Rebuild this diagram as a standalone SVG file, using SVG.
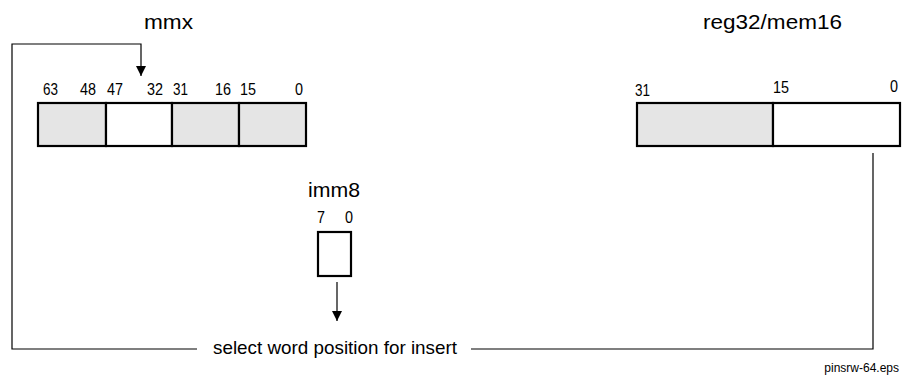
<svg xmlns="http://www.w3.org/2000/svg" width="902" height="379" viewBox="0 0 902 379">
<style>
text{font-family:"Liberation Sans",Arial,sans-serif;fill:#000}
.t{font-size:21px}
.n{font-size:17px}
.b{stroke:#000;stroke-width:2.2}
.g{fill:#e5e5e5}
.w{fill:#fff}
.c{fill:none;stroke:#000;stroke-width:1.2}
</style>
<defs>
<marker id="ah" viewBox="0 0 10 10" refX="10" refY="5" markerWidth="10" markerHeight="10" markerUnits="userSpaceOnUse" orient="auto">
<path d="M0,0 L10,5 L0,10 z" fill="#000"/>
</marker>
</defs>
<rect width="902" height="379" fill="#fff"/>
<g id="mmx">
<text class="t" x="144" y="29" textLength="49" lengthAdjust="spacingAndGlyphs">mmx</text>
<rect class="b g" x="38" y="103" width="68" height="43"/>
<rect class="b w" x="106" y="103" width="66" height="43"/>
<rect class="b g" x="172" y="103" width="67" height="43"/>
<rect class="b g" x="239" y="103" width="67" height="43"/>
<g class="n">
<text x="43" y="95" textLength="15" lengthAdjust="spacingAndGlyphs">63</text>
<text x="80" y="95" textLength="16" lengthAdjust="spacingAndGlyphs">48</text>
<text x="107" y="95" textLength="16" lengthAdjust="spacingAndGlyphs">47</text>
<text x="147" y="95" textLength="16" lengthAdjust="spacingAndGlyphs">32</text>
<text x="173" y="95" textLength="15" lengthAdjust="spacingAndGlyphs">31</text>
<text x="215" y="95" textLength="16" lengthAdjust="spacingAndGlyphs">16</text>
<text x="240" y="95" textLength="16" lengthAdjust="spacingAndGlyphs">15</text>
<text x="295" y="95" textLength="8" lengthAdjust="spacingAndGlyphs">0</text>
</g>
</g>
<g id="reg32">
<text class="t" x="703" y="29" textLength="139" lengthAdjust="spacingAndGlyphs">reg32/mem16</text>
<rect class="b g" x="637" y="103" width="136" height="43"/>
<rect class="b w" x="773" y="103" width="127" height="43"/>
<g class="n">
<text x="635" y="96" textLength="15" lengthAdjust="spacingAndGlyphs">31</text>
<text x="773" y="93" textLength="16" lengthAdjust="spacingAndGlyphs">15</text>
<text x="890" y="92" textLength="8" lengthAdjust="spacingAndGlyphs">0</text>
</g>
</g>
<g id="imm8">
<text class="t" x="308" y="197" textLength="52" lengthAdjust="spacingAndGlyphs">imm8</text>
<text class="n" x="317" y="223" textLength="8" lengthAdjust="spacingAndGlyphs">7</text>
<text class="n" x="345" y="223" textLength="8" lengthAdjust="spacingAndGlyphs">0</text>
<rect class="b w" x="318" y="232" width="33" height="44"/>
</g>
<g id="label">
<text x="213" y="354" style="font-size:19px" textLength="244" lengthAdjust="spacingAndGlyphs">select word position for insert</text>
</g>
<g id="connectors">
<path class="c" d="M197,349 H12 V44 H141 V76" marker-end="url(#ah)"/>
<path class="c" d="M337,282 V321" marker-end="url(#ah)"/>
<path class="c" d="M471,349 H873 V153"/>
</g>
<text x="899" y="372" style="font-size:12px;text-anchor:end">pinsrw-64.eps</text>
</svg>
